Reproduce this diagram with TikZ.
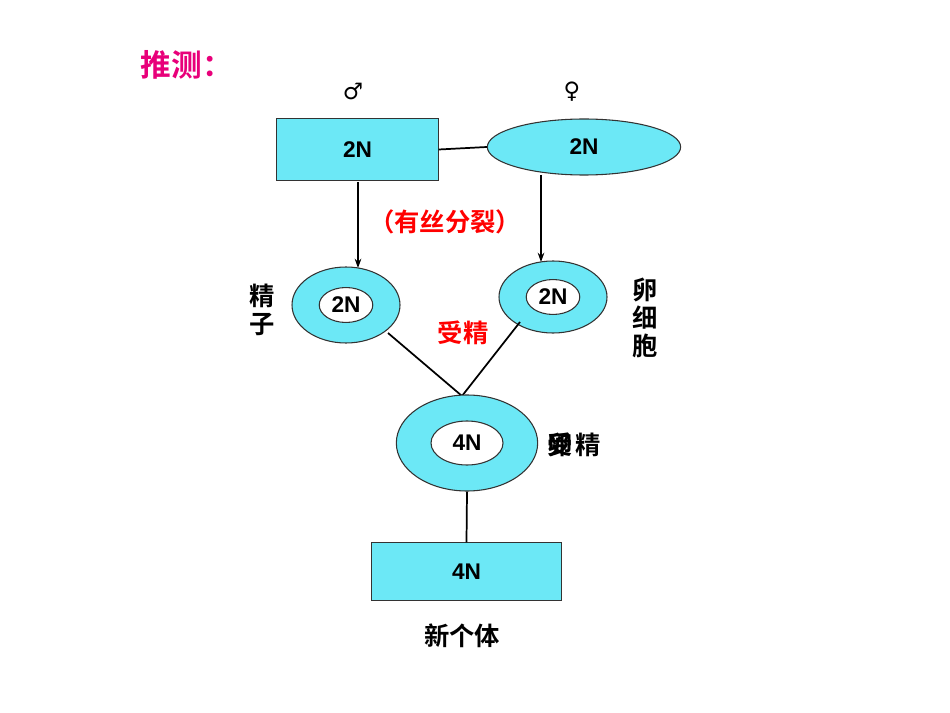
\documentclass[tikz,border=0pt]{standalone}
\usepackage{fontspec}
\setmainfont{Liberation Sans}
\newfontfamily\cjk{Noto Sans CJK SC Bold}
\newfontfamily\sym{DejaVu Sans}
\usetikzlibrary{shapes.geometric,arrows.meta}
\definecolor{cy}{HTML}{6CE8F6}
\definecolor{mag}{HTML}{E8007A}
\tikzset{
 box/.style={draw=black!80,fill=cy,line width=0.8pt},
 ring/.style={draw=black!80,fill=cy,line width=0.8pt},
 hole/.style={draw=black!80,fill=white,line width=0.8pt},
 lbl/.style={font=\bfseries\fontsize{17}{17}\selectfont},
 zh/.style={font=\cjk\fontsize{19}{21}\selectfont},
 conn/.style={line width=1.3pt},
 arr/.style={line width=1pt,-{Stealth[length=7pt,width=5pt]}}
}
\begin{document}
\begin{tikzpicture}[x=0.75pt,y=-0.75pt]
\useasboundingbox (0,0) rectangle (950,713);
\node[font=\cjk\fontsize{23}{23}\selectfont,text=mag,anchor=west] (t) at (136,65) {推测：};
\node[font=\sym\fontsize{17}{17}\selectfont] (m) at (353,92) {♂};
\node[font=\sym\fontsize{17}{17}\selectfont] (f) at (572,92) {♀};
\node[box,minimum width=121pt,minimum height=47pt,lbl] (r1) at (357.5,149.5) {2N};
\node[ring,ellipse,minimum width=145pt,minimum height=42pt,lbl] (e1) at (584,147) {2N};
\draw[conn] (r1.east) -- (e1.west);
\coordinate (a1) at (358,182); \coordinate (b1) at (358,268);
\coordinate (a2) at (541,175); \coordinate (b2) at (541,262);
\draw[arr] (a1) -- (b1);
\draw[arr] (a2) -- (b2);
\node[zh,text=red] (mit) at (445,222) {（有丝分裂）};
\node[ring,ellipse,minimum width=81pt,minimum height=57pt] (L) at (346,305) {};
\node[hole,ellipse,minimum width=40pt,minimum height=26pt,lbl] (Li) at (346,305) {2N};
\node[ring,ellipse,minimum width=81pt,minimum height=54pt] (R) at (553,297) {};
\node[hole,ellipse,minimum width=40pt,minimum height=26pt,lbl] (Ri) at (553,297) {2N};
\node[zh,align=center] (jz) at (262,310) {精\\子};
\node[zh,align=center] (lxb) at (645,318) {卵\\细\\胞};
\node[zh,text=red] (sj) at (463,333) {受精};
\coordinate (j) at (462,396);
\coordinate (l1) at (388,333); \coordinate (r2) at (520,322);
\draw[conn] (l1) -- (j) -- (r2);
\node[ring,ellipse,minimum width=106pt,minimum height=72pt] (B) at (467,443) {};
\node[hole,ellipse,minimum width=54pt,minimum height=33pt,lbl] (Bi) at (467,443) {4N};
\node[zh] (s1) at (560,445) {卵};
\node[zh] (s2) at (560,445) {受};
\node[zh] (s3) at (588,445) {精};
\node[box,minimum width=142pt,minimum height=43pt,lbl] (r2b) at (466.5,571.5) {4N};
\draw[conn] (B.south) -- (r2b.north);
\node[zh] (xgt) at (462,636) {新个体};
\end{tikzpicture}
\end{document}
